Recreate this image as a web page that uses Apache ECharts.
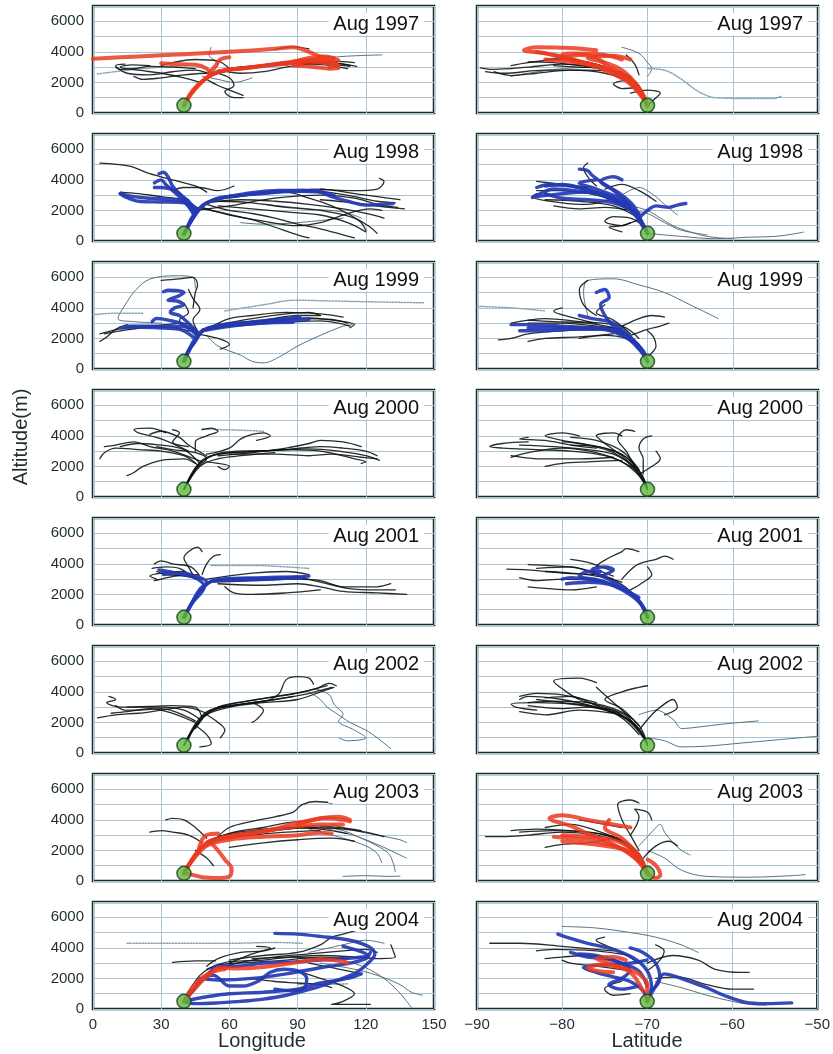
<!DOCTYPE html>
<html><head><meta charset="utf-8">
<script src="https://cdn.jsdelivr.net/npm/echarts/dist/echarts.min.js"></script>
<style>html,body{margin:0;padding:0;background:#fff}#c{width:833px;height:1054px}</style>
</head><body><div id="c"></div><script>
const years = ['Aug 1997','Aug 1998','Aug 1999','Aug 2000','Aug 2001','Aug 2002','Aug 2003','Aug 2004'];
const lonTicks = [0,30,60,90,120,150];
const latTicks = [-90,-80,-70,-60,-50];
const altTicks = [0,1000,2000,3000,4000,5000,6000,7000];
const siteLon = [40,500];
const siteLat = [-70,500];

// ---------- 1997 ----------
const lon97r = [
 [[40,500],[43,1200],[47,1900],[52,2500],[58,2800],[70,3000],[85,3300],[95,3450],[105,3300],[108,3100]],
 [[0,3550],[20,3700],[40,3850],[60,4000],[80,4200],[88,4300],[95,4000],[100,3700],[106,3600]],
 [[52,2500],[50,2900],[45,3150],[35,3200],[30,3250]],
 [[51,2600],[54,3100],[56,3500],[60,3650]],
 [[85,3200],[95,3600],[102,3700],[108,3450]],
 [[88,3100],[98,3000],[104,2900],[108,2950]],
 [[40,500],[44,1500],[49,2200],[55,2700],[65,2900],[80,3150],[95,3350],[106,3200]],
 [[90,3300],[100,3500],[107,3200],[104,3000]]
];
const lon97k = [
 [[40,500],[45,1600],[52,2500],[60,2900],[75,3150],[90,3400],[105,3200],[113,3050]],
 [[40,500],[46,1800],[55,2600],[70,2950],[85,3250],[100,3300],[110,3200],[116,3050]],
 [[52,2500],[45,2800],[35,2700],[25,2500],[15,2600],[10,3100],[14,3200]],
 [[47,2000],[40,2300],[30,2600],[20,2800],[12,3000],[17,3150],[25,3100]],
 [[55,2600],[60,2300],[62,1800],[58,1400],[62,1000],[66,1000]],
 [[50,2200],[55,1800],[60,1500],[66,1150]],
 [[60,2900],[55,3400],[45,3500],[35,3300],[30,3100]],
 [[80,4150],[88,4330],[95,4200]],
 [[65,3000],[80,3100],[95,3300],[108,3250],[113,3100]],
 [[40,500],[44,1400],[50,2300],[58,2700],[72,3000],[88,3250],[102,3150],[112,2900]],
 [[45,2900],[35,3000],[25,3050],[18,2900],[12,2850],[10,3000]],
 [[50,2600],[40,2500],[30,2300],[22,2200],[18,2400]],
 [[55,2800],[65,2600],[75,2700],[85,3000],[95,3200],[105,3400],[115,3300]]
];
const lon97g = [
 [[90,3400],[110,3700],[127,3800]],
 [[52,2600],[55,3200],[51,3800],[52,4300]],
 [[48,2400],[55,2200],[62,2000],[70,2300]]
];
const lon97d = [[[2,2550],[15,2800],[30,3000],[42,3100]]];
const lat97r = [
 [[-70,500],[-70.5,1200],[-71.5,2000],[-73.5,2600],[-76,3100],[-79,3500],[-82,3900],[-84.5,4100],[-83,4300],[-79,4250],[-76,4100]],
 [[-70,500],[-71,1500],[-72.5,2300],[-75,2900],[-78,3300],[-80,3800],[-78,3900],[-75,3800],[-73,3500]],
 [[-70.5,1000],[-72,2000],[-74,2700],[-77,3200],[-80,3400],[-82,3500]],
 [[-71.5,2000],[-73,2800],[-75,3300],[-77,3600],[-74,3750],[-72,3500]],
 [[-70,500],[-71,1300],[-72.5,2100],[-75,2800],[-77.5,3300],[-80,3700],[-83,4000]],
 [[-72,2300],[-74.5,3000],[-76,3600],[-78,3800],[-80,3600]]
];
const lat97k = [
 [[-70,500],[-71,1700],[-73,2500],[-76,3000],[-80,3200],[-84,3000],[-88,2850],[-89.6,2950]],
 [[-70.5,1000],[-72,2000],[-75,2600],[-79,2800],[-83,2600],[-86,2450],[-88,2700]],
 [[-73,2500],[-76,3200],[-80,3500],[-84,3300],[-86,3100]],
 [[-70,500],[-69,1000],[-68.5,1300],[-70,1500],[-72,1300]],
 [[-72,2200],[-74,1900],[-73,1600],[-71,1700]],
 [[-71,2500],[-71.5,3200],[-72.5,3800]],
 [[-72,2400],[-75,2900],[-78,3000],[-81,3100]],
 [[-70,500],[-71,1400],[-72.5,2200],[-75,2800],[-78,3100],[-81,3300],[-84,3350]],
 [[-71,1800],[-74,2800],[-77,3300],[-80,3600],[-82,3500]],
 [[-73,2700],[-77,2800],[-82,2800],[-87,2600],[-89,2700]]
];
const lat97g = [
 [[-73,4300],[-71,3900],[-70,3300],[-69.5,2900],[-70,2400]],
 [[-76,3000],[-80,2900],[-84,2600],[-86,2400]],
 [[-55,950],[-54.3,1100]]
];
const lat97d = [[[-70,2900],[-68,2800],[-66,2200],[-64,1400],[-62,1000],[-58,950],[-55,950]]];

// ---------- 1998 ----------
const lon98b = [
 [[40,450],[44,1500],[48,2300],[55,2750],[67,3100],[82,3300],[97,3300],[105,2900],[112,2600],[120,2350],[132,2450]],
 [[40,450],[43,1400],[45,2000],[42,2500],[35,2700],[25,2800],[18,2900],[12,3100]],
 [[45,2000],[42,2600],[38,3100],[35,3600],[33,4200],[31,4500],[29,4400]],
 [[44,1800],[40,2800],[36,3300],[30,3500],[27,3500]],
 [[46,2100],[40,2500],[30,2550],[20,2600],[14,2900],[12,3100]],
 [[48,2300],[55,2800],[70,3050],[90,3250],[100,3200],[106,3000]],
 [[40,450],[45,1700],[50,2500],[60,2900],[75,3150],[92,3300],[102,3200]],
 [[44,1900],[38,2900],[32,3700],[30,4000],[27,3800]]
];
const lon98k = [
 [[50,3200],[45,3600],[35,4000],[25,4400],[16,4900],[3,5100]],
 [[50,2400],[60,2000],[70,1800],[80,1500],[90,1100],[100,800],[110,400],[115,200]],
 [[48,2200],[60,1700],[75,1300],[90,1000],[100,1200],[110,1700],[122,2100],[127,2000]],
 [[55,2600],[70,2500],[85,2200],[100,2000],[115,1500],[122,900],[125,500]],
 [[60,2800],[80,3200],[100,3400],[115,3100],[125,2900],[135,2700]],
 [[100,3400],[115,3300],[125,3400],[128,3900],[126,4100]],
 [[60,2900],[75,3100],[85,3200],[95,2800],[105,2300],[112,1800],[118,1200],[120,700]],
 [[45,2200],[55,1900],[70,1400],[80,900],[90,400],[95,200]],
 [[100,2700],[115,2500],[130,2200],[137,2100]],
 [[35,3300],[40,3500],[47,3500],[55,3300],[62,3600]],
 [[65,3000],[85,3300],[100,3250],[115,2900],[125,2600],[133,2500]],
 [[50,2500],[65,2700],[80,2600],[95,2400],[110,2100],[120,1800],[128,1500]],
 [[45,2000],[60,2300],[80,2800],[100,3000],[115,2800],[125,2400],[134,2200]],
 [[55,2300],[70,2100],[85,1900],[100,1700],[112,1200],[120,600]],
 [[42,2700],[30,2900],[20,3100],[12,3200]]
];
const lon98g = [
 [[65,1200],[75,1100],[90,1200],[110,1500]],
 [[75,2400],[95,2100],[110,1900],[118,1500]]
];
const lat98b = [
 [[-70,500],[-70.8,1300],[-72.5,2300],[-75,3000],[-78,3250],[-81,3400],[-83,3000],[-83.5,2850]],
 [[-70,500],[-71,1500],[-73,2500],[-76,3200],[-79,3600],[-81.5,3700],[-83,3500]],
 [[-70.5,1000],[-71.5,2200],[-73,3000],[-75,3700],[-76.5,4300],[-77,4600],[-78,4700]],
 [[-71,1500],[-70,2000],[-69,2300],[-67.5,2200],[-66.5,2350],[-65.5,2450]],
 [[-71,1800],[-74,2500],[-77,2700],[-80,2800],[-82,3100]],
 [[-72,2300],[-74,3300],[-75.5,3900],[-74,4200],[-73,4000]],
 [[-70,500],[-71.5,1800],[-74,2800],[-77,3200],[-80,3100],[-83,2900]],
 [[-70.5,900],[-72,2000],[-75,2900],[-78,3500],[-80,3700],[-82,3600]],
 [[-71,1600],[-73,2700],[-76,3400],[-78,3800],[-76,4000]]
];
const lat98k = [
 [[-75,3400],[-73,3700],[-71,3300],[-69,2600]],
 [[-70.5,1000],[-72,1500],[-74,1600],[-75,1300],[-73,1000],[-72,1200]],
 [[-71,1400],[-73,1000],[-74.5,900],[-73,600]],
 [[-74,2800],[-77,2400],[-80,2500],[-83.5,2900],[-83,3100]],
 [[-77,3500],[-80,3700],[-83,3900]],
 [[-76,3600],[-77,4200],[-77.5,4800],[-77,5100]],
 [[-72,2000],[-75,2200],[-78,2100],[-81,2300]],
 [[-70,500],[-71,1500],[-73,2400],[-76,3000],[-80,3300],[-83,3300]],
 [[-71,1500],[-74,2300],[-78,2600],[-82,2700]]
];
const lat98g = [
 [[-70,500],[-66,300],[-62,150],[-58,250],[-55,300],[-53,450],[-51.7,580]],
 [[-72,2300],[-70,2000],[-68.5,1500],[-67,1000],[-65,600],[-63,300],[-60,150]],
 [[-73,3000],[-71,3500],[-69.5,3100],[-68,2400],[-66.5,1700]],
 [[-72,2000],[-70,1800],[-68,1200],[-66,700],[-63,400]]
];

// ---------- 1999 ----------
const lon99b = [
 [[40,500],[42,1200],[44.5,1700],[48.7,2550],[57,2900],[68,3050],[78,3200],[91,3400]],
 [[40,500],[43,1400],[46,2200],[42,2700],[36,2800],[25,2800],[15,2800]],
 [[46,2400],[42,3000],[38,3500],[34,3700],[36,4000],[40,4200],[37,4450],[33,4500],[38,4800],[40,5000],[33,5150],[31,5050]],
 [[45,2300],[40,2900],[33,3200],[28,3300],[26,3100]],
 [[48,2500],[60,2800],[75,3000],[88,3050]],
 [[40,500],[43,1500],[47,2400],[55,2750],[70,2950],[85,3150],[95,3250]],
 [[44,2100],[38,2600],[28,2700],[18,2750],[12,2700]]
];
const lon99k = [
 [[45,2400],[35,2700],[25,2800],[15,2700],[8,2500],[3,2300]],
 [[3,1800],[6,2100],[10,2600],[15,2900]],
 [[44,4000],[45,5000],[46,5500],[44,6000],[38,5900],[30,5800]],
 [[48,2600],[60,2800],[75,3000],[90,3100],[100,3150],[108,3000],[113,2800]],
 [[50,2700],[65,3000],[85,3300],[95,3350],[105,3200],[115,2900],[113,2700]],
 [[45,2300],[55,2000],[60,1600],[56,1300]],
 [[60,3000],[75,3200],[90,3500],[100,3500]],
 [[42,2600],[38,3200],[42,3700],[40,4300]],
 [[55,2900],[70,3300],[85,3600],[95,3700],[100,3500]],
 [[40,500],[45,1800],[50,2600],[62,2900],[78,3100],[92,3300],[105,3250],[112,3000]],
 [[46,2400],[40,3000],[32,2900],[22,2700],[12,2500],[5,2300]],
 [[50,2600],[60,3300],[70,3500],[85,3700],[100,3600],[110,3400]],
 [[46,2500],[44,3200],[47,3900],[44,4600],[42,5200]]
];
const lon99g = [
 [[30,3000],[18,3100],[11,3300],[15,4400],[19,5200],[25,5880],[36,6100],[44,6000],[45,5300]],
 [[50,2200],[55,1500],[65,900],[70,500],[75,400],[82,800],[90,1500],[100,2200],[110,2800],[114,2900]]
];
const lon99d = [
 [[58,3800],[75,4200],[89,4500],[105,4450],[120,4400],[146,4330]],
 [[0,3550],[10,3650],[22,3650]]
];
const lat99b = [
 [[-70,500],[-70.5,1200],[-72,2000],[-74,2500],[-77,2700],[-80,2800],[-83,2900],[-86,2900]],
 [[-70,500],[-71,1400],[-73,2200],[-75.5,2600],[-79,2600],[-82,2500],[-85,2500]],
 [[-72,2100],[-74,2800],[-75,3500],[-75.5,4200],[-74.5,4700],[-75,5200],[-76,5000]],
 [[-71.5,1800],[-74,3000],[-76.5,3300],[-78,3500]],
 [[-70,500],[-71,1300],[-73,2300],[-76,2700],[-80,2700],[-84,2700]]
];
const lat99k = [
 [[-76,3500],[-77.5,4200],[-78,5200],[-77,5800]],
 [[-72,2200],[-70,2600],[-68.5,2800],[-67.5,3000]],
 [[-73,2800],[-71,3300],[-69.5,3500],[-68,3400]],
 [[-75,2700],[-80,2500],[-84,2300],[-86,2000],[-87.5,1900]],
 [[-74,2300],[-78,2100],[-82,2000],[-84,1800]],
 [[-71,1500],[-72.5,2000],[-75,2200],[-78,2000]],
 [[-76,3000],[-79,3400],[-81,3800],[-80,4000]],
 [[-70,800],[-69,1500],[-69.3,2100],[-70,2500]],
 [[-73,2600],[-77,3000],[-81,3100],[-84,3200]],
 [[-70,500],[-71,1600],[-73,2500],[-76,2800],[-80,3000],[-84,3000]],
 [[-72,2300],[-74,3200],[-76,3700],[-75,4200]],
 [[-71,2000],[-73,2800],[-78,3100],[-82,3300],[-86,3000]]
];
const lat99g = [
 [[-77,3500],[-77.5,5000],[-77,5800],[-74,5900],[-71,5500],[-68,5000],[-65,4200],[-61.7,3300]]
];
const lat99d = [[[-90,4100],[-86,4000],[-82,3800]]];

// ---------- 2000 ----------
const lon00k = [
 [[40,500],[43,1300],[46,2100],[50,2600],[60,2900],[75,3000],[85,3100],[100,3300],[110,3200],[120,3000],[125,2700]],
 [[40,500],[44,1500],[48,2300],[55,2800],[70,2950],[85,3100],[100,3000],[115,2500],[120,2300],[118,2200]],
 [[46,2100],[40,2700],[30,3000],[20,3100],[10,3200],[5,2900],[3,2500]],
 [[48,2300],[35,3000],[25,3300],[18,3600],[10,3400],[5,3300]],
 [[45,2200],[40,2500],[30,2400],[22,2000],[18,1600],[15,1400]],
 [[42,3000],[30,3800],[20,4200],[18,4400],[25,4500],[32,4200]],
 [[45,3000],[45,3600],[50,4000],[55,4300],[52,4500],[48,4400]],
 [[50,2800],[60,3200],[65,3800],[70,4100],[75,4200],[78,4000],[72,3700]],
 [[42,3300],[35,3600],[38,4200],[35,4400]],
 [[55,2700],[70,2900],[85,3200],[95,3500],[100,3700],[110,3600],[118,3300]],
 [[60,2800],[80,2800],[95,2700],[105,2800],[118,2600],[125,2500]],
 [[50,2300],[60,2000],[58,1800],[55,2000]],
 [[40,500],[45,1800],[50,2500],[45,2900],[35,3100],[28,3300]],
 [[40,500],[47,2000],[55,2500],[65,2700],[80,2900]],
 [[40,500],[45,1900],[52,2700],[63,3000],[80,3050],[95,3150],[108,3000],[120,2700],[126,2400]],
 [[47,2200],[40,3100],[30,3400],[20,3500],[12,3300]],
 [[50,2700],[42,3400],[38,3900],[30,4300],[25,4100]]
];
const lon00d = [[[48,4450],[58,4400],[68,4350],[75,4300]]];
const lat00k = [
 [[-70,500],[-70.5,1200],[-72,2000],[-75,2700],[-79,3000],[-83,3100],[-87,3200],[-88.5,3300],[-87,3500],[-84,3600]],
 [[-70,500],[-71,1400],[-73,2300],[-76,2900],[-80,3200],[-84,2900],[-86,2600]],
 [[-70.5,1000],[-72,2100],[-74,2900],[-77,3400],[-80,3700],[-82,4000],[-80,4200],[-78,4000]],
 [[-71,1700],[-73,2700],[-75,3500],[-76,4000],[-74,4200],[-73,4000]],
 [[-71.5,2000],[-72.5,3000],[-73.5,3800],[-72.5,4400],[-71.5,4300]],
 [[-70.5,1500],[-70.5,2500],[-71,3200],[-70.5,3800],[-69.5,4000]],
 [[-71,1500],[-69.5,2000],[-68.5,2500],[-69,3000]],
 [[-73,2400],[-77,2300],[-80,2200],[-82,2000]],
 [[-76,3200],[-79,3400],[-82,3700],[-85,3800],[-84,3900]],
 [[-74,2600],[-78,2500],[-83,2500],[-86,2700]],
 [[-70,500],[-71,1700],[-72.5,2600],[-75,3200],[-78,3500],[-80,3600]],
 [[-70,500],[-70.8,1600],[-73,2800],[-76,3300],[-79,3400]],
 [[-70,500],[-71.5,1900],[-74,2800],[-77,3100],[-81,3300],[-85,3400]],
 [[-71,1800],[-73,3000],[-76,3700],[-79,3900]]
];

// ---------- 2001 ----------
const lon01b = [
 [[40,500],[43,1300],[47,2200],[53,2900],[65,3000],[80,3050],[95,3200]],
 [[40,500],[44,1500],[49,2500],[46,3000],[40,3300],[33,3500],[29,3600]],
 [[47,2200],[50,2800],[45,3200],[38,3400],[31,3300]],
 [[53,2900],[68,2950],[85,3050],[93,3100]],
 [[40,500],[44,1600],[48,2500],[56,3000],[75,3100],[90,3150]]
];
const lon01k = [
 [[53,2800],[70,2900],[90,3000],[100,2900],[110,2500],[125,2500],[131,2700]],
 [[55,2700],[75,2600],[90,2700],[100,2500],[110,2200],[125,2100],[138,2000]],
 [[58,2500],[62,2100],[70,2000],[85,2100],[100,2300]],
 [[45,3000],[42,3800],[40,4400],[43,4900],[46,5100],[48,4800]],
 [[47,3200],[43,3800],[35,4000],[30,4200],[27,4000]],
 [[48,3300],[50,4000],[53,4500],[56,4600]],
 [[44,3100],[38,3700],[32,3800],[26,3700]],
 [[40,3500],[30,3400],[25,3200],[28,3000]],
 [[50,3000],[70,3400],[85,3500],[95,3300]],
 [[46,3300],[36,3200],[30,3000],[27,2900]],
 [[40,500],[45,1700],[50,2700],[58,3000],[75,3100],[90,3100],[100,2800],[112,2400],[125,2300],[133,2300]],
 [[48,3000],[40,3200],[32,3300],[28,3500]]
];
const lon01d = [[[52,3900],[70,3900],[85,3800],[95,3700]]];
const lat01b = [
 [[-70,500],[-70.5,1200],[-72,2100],[-74.5,2700],[-77,3000],[-79,3100],[-80,3000]],
 [[-70,500],[-71,1600],[-73,2500],[-75,3100],[-76.5,3600],[-75,3800],[-74,3600],[-75,3300]],
 [[-71,1800],[-74,2600],[-77,2800],[-79.5,2700]],
 [[-70,500],[-71,1500],[-73,2300],[-75.5,2900],[-78,3200],[-77,3500],[-75.5,3500]]
];
const lat01k = [
 [[-75,3300],[-80,3400],[-84,3600],[-86.5,3650]],
 [[-74,3000],[-78,3700],[-82,3900],[-84,3950]],
 [[-74,3200],[-76,3800],[-74.5,4400],[-73,4800],[-72.5,5000],[-71,4800]],
 [[-73,3000],[-72,3600],[-71,4000],[-69,4300],[-68,4500],[-67,4300]],
 [[-72,2300],[-70.5,2800],[-69.5,3300],[-70,3800]],
 [[-76,2500],[-79,2300],[-82,2400],[-84,2500]],
 [[-75,2900],[-80,3000],[-83,2900],[-85,3100]],
 [[-74,3500],[-77,4100],[-79,4300]],
 [[-70,500],[-71.5,1900],[-73.5,2800],[-76,3200],[-79,3400],[-82,3500]],
 [[-73,2800],[-76,3300],[-79,3800],[-83,3700]]
];

// ---------- 2002 ----------
const lon02k = [
 [[40,500],[43,1300],[47,2100],[55,3000],[68,3400],[80,3700],[89,3900],[98,4200],[104,4550],[107,4400]],
 [[40,500],[44,1500],[50,2500],[60,3000],[75,3300],[90,3500],[100,4000],[106,4300]],
 [[47,2200],[40,2800],[30,3000],[20,3000],[12,3000],[6,3300],[10,3500],[7,3700]],
 [[50,2600],[40,3000],[30,2800],[20,2600],[10,2500],[2,2300]],
 [[45,2000],[35,2600],[25,2900],[15,2700],[8,2600]],
 [[55,3000],[70,3300],[78,3500],[82,3900],[85,4800],[90,5000],[95,4900],[97,4500]],
 [[70,3300],[75,2800],[72,2200],[70,2000]],
 [[45,1800],[50,1200],[52,600],[47,400]],
 [[50,2500],[55,2000],[58,1500],[56,1000]],
 [[48,2400],[55,2900],[65,3200],[80,3500],[92,3800],[100,4100],[105,4300]],
 [[40,500],[46,2000],[52,2800],[62,3100],[76,3400],[88,3700]],
 [[45,2100],[30,2900],[20,2800],[14,2800],[10,3100]],
 [[40,500],[45,1900],[50,2700],[58,3100],[72,3500],[86,3800],[95,4100],[103,4400]],
 [[48,2300],[45,3000],[35,3100],[25,3050],[15,3000]],
 [[45,1600],[48,2200],[44,1500],[42,900]]
];
const lon02g = [
 [[95,4000],[100,3500],[103,3000],[108,2500],[113,2000],[120,1500],[125,1000],[130,400],[131,300]],
 [[98,4200],[104,3800],[106,3200],[110,2500],[108,2100],[115,1500],[120,1000],[112,800],[108,1000]]
];
const lat02k = [
 [[-70,500],[-70.5,1200],[-72,2100],[-75,2800],[-79,3200],[-83,3300],[-86,3200],[-85.5,3000],[-83,2800]],
 [[-70,500],[-71,1500],[-73,2400],[-76,3000],[-80,3500],[-84,3700],[-85,3500]],
 [[-70.5,1000],[-72,2000],[-74,2800],[-78,3500],[-80,4200],[-81,4700],[-78,4900],[-76,4600]],
 [[-71,1800],[-73,2900],[-75,3500],[-73,4000],[-71,4300],[-70,4400]],
 [[-71,1500],[-69.5,2500],[-68.5,3000],[-67,3500],[-66.5,3000],[-68,2500]],
 [[-74,2600],[-78,2800],[-82,2500],[-85,2700]],
 [[-76,3300],[-80,3800],[-83,3900],[-85,3700]],
 [[-72,2300],[-74,3300],[-75,3800],[-76,4300]],
 [[-70,500],[-71,1800],[-73.5,2800],[-77,3300],[-81,3400],[-84,3300]],
 [[-70,500],[-71.5,1900],[-74,2700],[-77,3100],[-80,3300],[-83,3500]],
 [[-71,1200],[-73,2300],[-76,3100],[-79,3700],[-82,3600]],
 [[-71,1500],[-73,2600],[-77,3000],[-80,2900],[-84,3100]]
];
const lat02g = [
 [[-71,2500],[-69,2800],[-67,2200],[-66,1600],[-64,1700],[-61,1900],[-57,2100]],
 [[-70,1000],[-68,800],[-66,400],[-63,450],[-59,650],[-55,850],[-50,1100]]
];

// ---------- 2003 ----------
const lon03r = [
 [[40,500],[44,1500],[48,2200],[53,2600],[62,2900],[70,3100],[80,3400],[88,3750],[95,3950],[102,4100],[110,4000],[113,3900]],
 [[40,500],[43,1200],[50,2300],[60,2700],[75,2900],[90,3000],[100,3150],[105,3100]],
 [[40,500],[44,400],[48,250],[55,200],[60,300],[61,800],[58,1400],[55,2000],[52,2500]],
 [[46,1800],[48,2700],[50,3000],[55,3100]],
 [[90,3700],[100,4100],[108,4200],[113,4000]],
 [[40,500],[45,1700],[50,2500],[58,2900],[72,3200],[86,3500],[100,3700],[110,3700]]
];
const lon03k = [
 [[40,500],[45,1700],[52,2600],[65,3000],[80,3300],[95,3500],[110,3400],[120,3200],[128,2900]],
 [[48,2500],[42,3000],[35,3200],[30,3300],[25,3200]],
 [[50,2800],[45,3500],[40,4000],[35,4100],[32,4000]],
 [[55,2900],[60,3500],[70,3900],[80,4200],[88,4500],[92,5000],[98,5200],[105,5100]],
 [[60,2200],[75,2500],[90,2700],[105,2800],[115,2600]],
 [[50,2600],[62,3200],[75,3500],[85,3800],[95,3900]],
 [[45,2000],[50,1500],[53,1000]],
 [[40,500],[47,2100],[55,2700],[70,3000],[85,3200],[100,3300]],
 [[40,500],[46,1900],[54,2800],[68,3200],[82,3400],[98,3600],[108,3500],[118,3300]],
 [[52,2700],[60,3100],[70,3300],[85,3500],[100,3400],[112,3100]]
];
const lon03g = [
 [[100,3600],[110,3300],[118,2800],[125,2300],[130,1800],[132,1200],[133,600]],
 [[100,3500],[112,3100],[120,2700],[128,2200],[135,1700],[138,1500]],
 [[105,3700],[115,3300],[125,3000],[135,2700],[138,2500]],
 [[95,3400],[110,2800],[120,2300],[125,1800],[127,1200]],
 [[110,300],[120,350],[130,300],[135,320]]
];
const lat03r = [
 [[-70,500],[-71,1300],[-73,2100],[-76,2600],[-79,2800],[-81,2900]],
 [[-70,500],[-71.5,1500],[-74,2400],[-77,3100],[-79,3600],[-81.5,4100],[-80,4300],[-77,4000],[-74,3700],[-72,3500]],
 [[-70,500],[-69.5,300],[-69,200],[-68.5,400],[-69,1000],[-70,1400]],
 [[-71,1700],[-73,2800],[-75,3500],[-74.5,4000]],
 [[-70.5,1000],[-72,1900],[-75,2300],[-78,2500],[-80,2600]],
 [[-70,500],[-71,1600],[-73.5,2600],[-77,2900],[-80,3000]]
];
const lat03k = [
 [[-70,500],[-71,1500],[-73,2500],[-76,3000],[-80,3200],[-84,3000],[-87,2900],[-89,2900]],
 [[-70.5,1000],[-72,2200],[-75,3000],[-79,3300],[-83,3400],[-86,3300]],
 [[-71,2000],[-72,3000],[-73,4000],[-73.5,5000],[-72,5300],[-71,5100]],
 [[-72,3000],[-71,4200],[-71.5,4700],[-70,4500],[-69.5,4000]],
 [[-70.5,1500],[-69,2300],[-67.5,2600],[-66.5,2300]],
 [[-74,2800],[-77,2500],[-80,2400],[-82,2200]],
 [[-73,3500],[-76,3800],[-78,4000]],
 [[-70,500],[-71,1800],[-73.5,2800],[-77,3200],[-81,3300],[-85,3200]],
 [[-71,1600],[-73,2600],[-76,3300],[-79,3700],[-82,3500]]
];
const lat03g = [
 [[-71,2300],[-69.5,3200],[-68.5,3700],[-68,3200],[-67,2500],[-66,2000],[-65,1700]],
 [[-70,2000],[-68,1500],[-66,700],[-63,300],[-58,250],[-53,350],[-51.5,420]]
];

// ---------- 2004 ----------
const lon04b = [
 [[40,500],[45,350],[55,400],[65,500],[75,650],[85,900],[98,1400],[108,1900],[116,2400],[121,3000],[124,3600],[121,4100],[113,4500],[100,4750],[90,4900],[80,4950]],
 [[40,500],[45,1400],[47,1900],[53,2200],[60,1500],[66,1500],[73,1850],[78,2400],[84,2600],[90,2500],[94,2000],[93,1400],[88,1200],[80,1300]],
 [[40,500],[46,1600],[52,2500],[54,2800],[62,2800],[75,3000],[90,3100],[105,3250],[115,3350],[121,3500],[117,3800],[110,4100]],
 [[40,500],[50,800],[60,1000],[75,1100],[90,1300],[100,1700],[112,2000],[118,2300]],
 [[47,2000],[55,1900],[70,2000],[85,2300],[100,2700],[113,3000],[120,3300],[122,3700]]
];
const lon04r = [
 [[40,500],[44,1200],[49,2000],[53,2450],[55,2700],[62,2650],[75,2750],[90,3050],[100,3250],[108,3150],[112,3000]],
 [[41,800],[46,1800],[52,2400],[58,2600]]
];
const lon04k = [
 [[54,3150],[45,3150],[35,3050]],
 [[50,2800],[55,3300],[65,3700],[75,3800],[80,4000]],
 [[60,3200],[75,3500],[90,3700],[100,4200],[105,4700],[110,4900],[117,5200]],
 [[70,3300],[85,3400],[100,3500],[115,3400],[125,3300],[133,3400],[131,4200]],
 [[90,2500],[100,2000],[110,1500],[115,1000],[110,500],[105,300],[115,300],[122,300]],
 [[70,2000],[80,1800],[90,1700],[100,1600],[105,1400]],
 [[55,2700],[70,3200],[80,3400],[95,3600],[110,3800],[120,3900],[125,3700]],
 [[60,3000],[70,3600],[78,4000],[72,4100]],
 [[50,2600],[60,3100],[75,3200],[88,3400],[100,3300],[110,3300]],
 [[95,3000],[105,2700],[112,2500],[118,2300]],
 [[40,500],[47,2200],[56,2900],[70,3050],[85,3200],[100,3400],[112,3300]]
];
const lon04g = [
 [[100,3000],[115,2600],[125,2200],[135,1600],[140,1100],[145,900]],
 [[110,3200],[120,2700],[128,2000],[134,1200],[138,500],[140,100]],
 [[95,3700],[110,4200],[120,4500],[128,4300]]
];
const lon04d = [
 [[15,4300],[40,4300],[60,4300],[80,4350],[92,4300]],
 [[90,1600],[100,1600],[112,1650]]
];
const lat04b = [
 [[-70,500],[-69.5,1500],[-70,2500],[-71.5,3300],[-74,3900],[-77,4300],[-79.5,4700],[-80.5,4900],[-80,4800]],
 [[-70,500],[-69,1500],[-68,2300],[-66.5,2100],[-65,1800],[-63,1400],[-61,900],[-58.5,450],[-56,350],[-53,400]],
 [[-70,500],[-70.5,1200],[-72,1800],[-74,2100],[-76,2400],[-77.5,2700],[-75,2900],[-72,3000],[-70,3200]],
 [[-71,1500],[-73,1300],[-74.5,1600],[-73,2000],[-72,2500],[-74,3200],[-77,3400],[-79,3700]],
 [[-70,1500],[-71,2500],[-73,3000],[-76,3500],[-78,3600]],
 [[-69.5,1200],[-68.5,2000],[-69,3000],[-70.5,3700],[-72,4000]]
];
const lat04r = [
 [[-70,500],[-70,1600],[-71,2300],[-73,2700],[-75.5,2900],[-77,2700],[-76,2500],[-74,2400]],
 [[-70.5,1200],[-72,2400],[-74.5,3000],[-76,3300],[-74,3400],[-72.5,3200]]
];
const lat04k = [
 [[-74,3800],[-80,4100],[-85,4300],[-88.5,4300]],
 [[-72,3500],[-76,3800],[-81,3900],[-83,3800]],
 [[-70,3000],[-67,3500],[-64,3200],[-62,2600],[-59,2400],[-58,2400]],
 [[-69,2000],[-66.5,2100],[-63,1600],[-60,1300],[-57.5,1300]],
 [[-71,3000],[-73,3700],[-75,4200],[-76,4500],[-75,4700]],
 [[-72,2500],[-76,2800],[-79,3000],[-80,3200]],
 [[-70,2500],[-68.5,3200],[-68,3800],[-69,4200]],
 [[-73,1800],[-75,1300],[-74,900],[-72,1000]],
 [[-74,3300],[-77,3500],[-80,3400],[-82,3300]]
];
const lat04g = [
 [[-80,5400],[-76,5300],[-72,5000],[-69,4700],[-66,4200],[-64,3700]],
 [[-69,1800],[-66,1400],[-63,900],[-60,500],[-58,300],[-56,250]]
];

// panel composition (references the named arrays above)
const panelSets = [
 [{k:lon97k,g:lon97g,d:lon97d,r:lon97r},{k:lat97k,g:lat97g,d:lat97d,r:lat97r}],
 [{k:lon98k,g:lon98g,b:lon98b},{k:lat98k,g:lat98g,b:lat98b}],
 [{k:lon99k,g:lon99g,d:lon99d,b:lon99b},{k:lat99k,g:lat99g,d:lat99d,b:lat99b}],
 [{k:lon00k,d:lon00d},{k:lat00k}],
 [{k:lon01k,d:lon01d,b:lon01b},{k:lat01k,b:lat01b}],
 [{k:lon02k,g:lon02g},{k:lat02k,g:lat02g}],
 [{k:lon03k,g:lon03g,r:lon03r},{k:lat03k,g:lat03g,r:lat03r}],
 [{k:lon04k,g:lon04g,d:lon04d,b:lon04b,r:lon04r},{k:lat04k,g:lat04g,b:lat04b,r:lat04r}]
];

const FONT = 'Liberation Sans, Arial, Helvetica, sans-serif';
const TXT = '#1f2d2e';
const styles = {
  g: {color:'#5f7179', width:1, z:2},
  d: {color:'#8ea5b1', width:1.5, type:'dotted', z:2},
  k: {color:'rgba(12,16,16,0.88)', width:1.3, z:3},
  b: {color:'rgba(36,58,178,0.92)', width:3.4, z:4},
  r: {color:'rgba(235,58,32,0.85)', width:4, z:4}
};

const grids = [], xAxes = [], yAxes = [], series = [], titles = [];
const ROW0 = 6, PITCH = 128, H = 107, W = 341;
const lefts = [93, 477];
for (let r = 0; r < 8; r++) {
  for (let c = 0; c < 2; c++) {
    const gi = r*2 + c;
    const top = ROW0 + r*PITCH;
    grids.push({left: lefts[c], top: top, width: W, height: H, show: true,
      borderColor: '#1b2b2c', borderWidth: 2.5, backgroundColor: '#fff', containLabel: false});
    const ticks = c === 0 ? lonTicks : latTicks;
    xAxes.push({type:'value', gridIndex: gi, min: ticks[0], max: ticks[ticks.length-1],
      interval: ticks[1]-ticks[0],
      axisLine:{show:false}, axisTick:{show:false},
      axisLabel:{show: r === 7, fontSize: 15, color: TXT, fontFamily: FONT, margin: 8,
        formatter: v => (v < 0 ? '\u2212' + Math.abs(v) : String(v))},
      splitLine:{show:true, lineStyle:{color:'#a9c4d4', width:1}}});
    yAxes.push({type:'value', gridIndex: gi, min: altTicks[0], max: altTicks[altTicks.length-1],
      interval: altTicks[1]-altTicks[0],
      axisLine:{show:false}, axisTick:{show:false},
      axisLabel:{show: c === 0, fontSize: 15, color: TXT, fontFamily: FONT, margin: 9,
        formatter: v => (v % 2000 === 0 ? String(v) : '')},
      splitLine:{show:true, lineStyle:{color:'#a9c4d4', width:1}}});
    const set = panelSets[r][c];
    ['g','d','k','b','r'].forEach(key => {
      if (!set[key]) return;
      const st = styles[key];
      set[key].forEach(pts => {
        series.push({type:'line', xAxisIndex: gi, yAxisIndex: gi, data: pts,
          smooth: 0.35, showSymbol: false, symbol: 'none', silent: true, z: st.z,
          lineStyle: {color: st.color, width: st.width, type: st.type || 'solid', cap:'round', join:'round'}});
      });
    });
    series.push({type:'scatter', xAxisIndex: gi, yAxisIndex: gi, data: [c === 0 ? siteLon : siteLat],
      symbolSize: 14, z: 10, zlevel: 1, silent: true,
      itemStyle:{color:'#5cb83c', borderColor:'#1d3a1a', borderWidth: 1.5}});
    titles.push({text: years[r], right: c === 0 ? 833 - 424 : 833 - 808, top: top + 7,
      backgroundColor: '#fff', padding: [1, 5, 1, 5],
      textStyle:{fontSize: 20, fontWeight: 'normal', color: '#111', fontFamily: FONT}});
  }
}

const chart = echarts.init(document.getElementById('c'), null, {renderer:'canvas'});
chart.setOption({
  animation: false,
  backgroundColor: '#fff',
  title: titles,
  grid: grids, xAxis: xAxes, yAxis: yAxes, series: series,
  graphic: [
    {type:'text', x: 21, y: 437, rotation: Math.PI/2, style:{text:'Altitude(m)', font:'20px ' + FONT, fill: TXT, textAlign:'center', textVerticalAlign:'middle'}},
    {type:'text', x: 262, y: 1041, style:{text:'Longitude', font:'20px ' + FONT, fill: TXT, textAlign:'center', textVerticalAlign:'middle'}},
    {type:'text', x: 647, y: 1041, style:{text:'Latitude', font:'20px ' + FONT, fill: TXT, textAlign:'center', textVerticalAlign:'middle'}}
  ]
});
</script></body></html>
